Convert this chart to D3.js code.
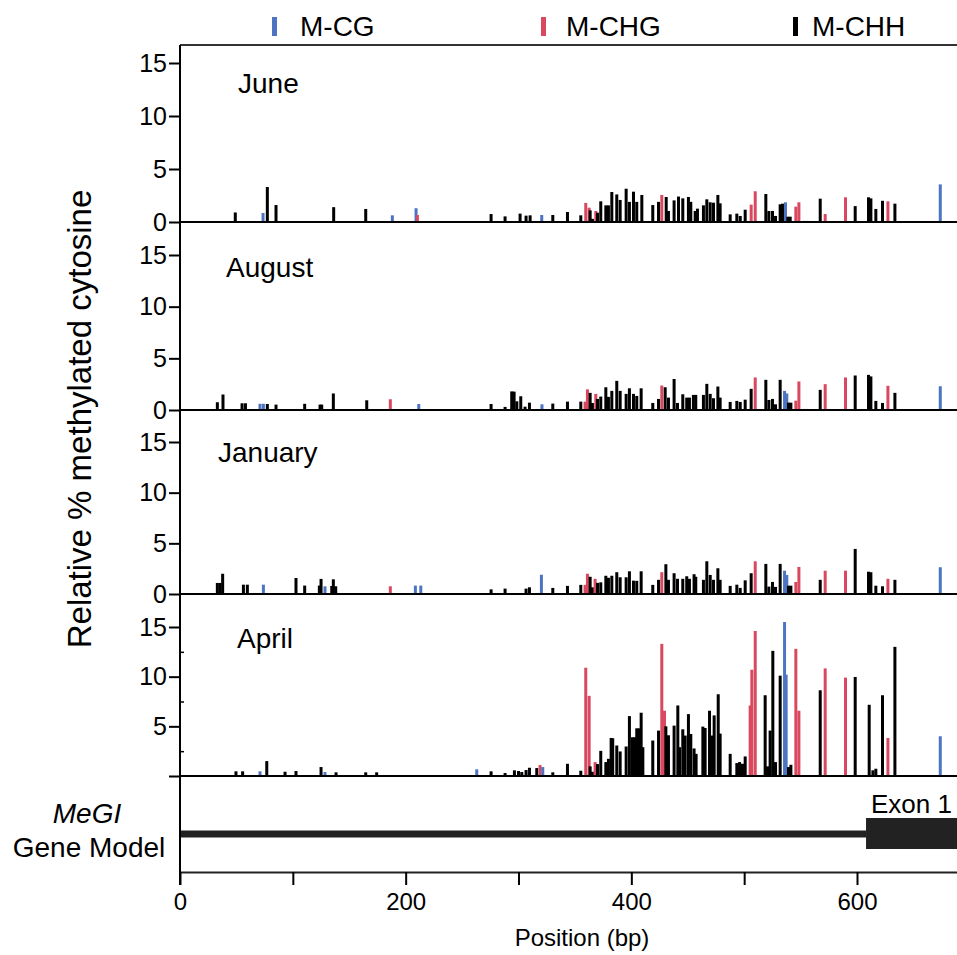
<!DOCTYPE html>
<html>
<head>
<meta charset="utf-8">
<script src="https://cdn.jsdelivr.net/npm/d3@7"></script>
<style>
  body { margin: 0; background: #fff; }
  text { font-family: "Liberation Sans", Arial, Helvetica, sans-serif; fill: #000; }
</style>
</head>
<body>
<svg id="chart" width="957" height="955"></svg>
<script>
// ---- data: [position (bp), relative % methylation] ----
var months = ["June", "August", "January", "April"];
var contexts = ["M-CG", "M-CHG", "M-CHH"];

var juneCG = [[73.6,0.85],[188.2,0.63],[209.2,1.3],[320.6,0.66],[536.6,1.86],[673.8,3.55]];
var juneCHG = [[210.4,0.66],[264.5,0.06],[359.6,1.8],[362.6,1.35],[368.5,1.04],[427.0,2.55],[506.2,1.64],[509.8,2.9],
  [545.8,1.45],[548.5,1.86],[571.8,0.75],[589.8,2.33],[627.4,1.95]];
var juneCHH = [[49,0.9],[77.4,3.3],[85.1,1.6],[136.2,1.4],[164.6,1.23],[275.7,0.75],[288.1,0.53],[301.4,0.79],[306.7,0.6],
  [310.3,0.63],[330.4,0.66],[343.4,0.94],[355.2,0.63],[363.5,1.1],[365.5,0.3],[370.0,0.88],[372.9,1.95],[377.4,1.57],
  [379.7,1.57],[382.7,2.83],[387.1,2.6],[390.1,2.08],[395.4,3.14],[398.3,1.9],[401.9,2.86],[404.8,1.9],[409.3,2.55],
  [419.0,1.6],[424.1,1.9],[430.9,2.36],[432.9,1.04],[437.9,2.04],[441.8,2.4],[445.6,2.23],[450.6,2.36],[452.7,1.9],
  [456.6,1.04],[458.6,1.26],[463.9,1.57],[466.9,2.14],[469.9,1.86],[472.8,1.82],[476.7,2.55],[478.7,1.76],[487.6,0.72],
  [493.5,0.79],[496.5,0.57],[500.9,1.16],[519.2,2.64],[521.9,1.04],[525.1,1.04],[527.8,0.57],[531.9,1.67],[534.0,1.73],
  [538.7,0.5],[540.8,0.5],[553,0.1],[556,0.1],[567.4,2.2],[598.4,1.5],[610.2,2.33],[612.3,2.23],[616.7,1.23],
  [622.6,2.0],[633.6,1.73]];

var augustCG = [[70.9,0.6],[73.9,0.6],[211.6,0.58],[320.8,0.55],[535.8,1.85],[537.8,1.6],[673.8,2.3]];
var augustCHG = [[186.4,1.04],[359.0,0.81],[361.1,2.0],[368.5,1.56],[427.0,2.37],[509.8,3.15],[545.8,0.9],[548.5,2.76],
  [571.8,2.5],[589.8,3.15],[627.4,2.34]];
var augustCHH = [[33.1,0.75],[38.1,1.5],[55,0.65],[58,0.65],[77.4,0.58],[85.1,0.52],[110.5,0.6],[124.1,0.52],[125.6,0.52],
  [135.9,1.6],[165.5,0.94],[275.7,0.58],[288.1,0.3],[294.0,1.8],[296.1,1.78],[298.5,0.84],[302.0,1.33],[305.8,0.32],
  [309.7,0.71],[330.4,0.62],[343.4,0.81],[355.2,0.81],[363.5,1.66],[365.5,0.68],[370.0,1.07],[372.9,1.3],[377.4,2.2],
  [379.7,1.27],[382.7,1.85],[387.1,2.82],[390.1,1.85],[395.4,1.56],[398.3,2.1],[401.9,1.56],[404.8,1.36],[408.7,2.1],
  [419.0,0.68],[424.1,1.07],[430.0,2.2],[432.9,1.2],[437.9,3.0],[440.9,0.68],[445.6,1.52],[449.1,1.2],[451.5,1.2],
  [455.0,1.46],[457.1,1.46],[463.9,1.46],[466.9,2.53],[469.9,1.56],[472.8,1.14],[476.7,2.27],[478.7,1.2],[487.6,0.78],
  [493.5,0.88],[496.5,0.78],[500.9,1.0],[506.2,2.05],[519.2,2.92],[521.9,0.97],[525.1,1.07],[527.8,0.55],[531.9,2.92],
  [539.3,0.71],[541.4,0.71],[553,0.1],[556,0.1],[567.4,1.95],[598.4,3.34],[610.2,3.4],[612.3,3.25],[616.7,0.88],
  [622.6,0.68],[633.6,1.66]];

var januaryCG = [[73.9,0.92],[128.5,0.76],[208.6,0.83],[213.4,0.83],[320.3,1.9],[535.8,2.3],[537.8,1.88],[673.8,2.64]];
var januaryCHG = [[186.4,0.76],[359.0,0.9],[361.1,2.0],[367.9,1.5],[427.0,2.15],[509.8,3.23],[545.8,1.19],[548.5,2.67],
  [571.8,2.3],[589.8,2.3],[627.4,1.5]];
var januaryCHH = [[33.1,1.09],[35.5,1.09],[37.8,2.0],[56.2,0.92],[59.7,0.92],[102.8,1.58],[110.5,0.83],[123.5,0.83],
  [125.0,1.49],[134.5,0.79],[135.9,1.45],[138.0,0.76],[275.7,0.46],[288.1,0.53],[306.7,0.53],[309.7,0.66],[330.4,0.6],
  [343.4,0.8],[352,0.1],[355.2,0.9],[363.5,1.7],[365.5,0.66],[370.0,1.1],[372.9,1.15],[377.4,1.8],[379.7,1.6],[382.7,1.8],
  [387.1,2.15],[390.1,1.65],[395.4,1.65],[398.3,2.24],[401.9,1.32],[404.8,1.3],[408.7,2.24],[419.0,0.9],[424.1,1.4],
  [430.6,2.94],[432.9,1.4],[437.9,2.05],[440.9,1.5],[445.6,1.5],[449.1,1.75],[451.5,1.5],[455.6,1.95],[457.1,1.7],
  [463.9,1.4],[466.9,3.23],[469.9,1.88],[472.8,1.4],[476.7,2.54],[478.7,1.4],[487.6,0.8],[493.5,0.92],[496.5,0.6],
  [500.9,1.35],[506.2,2.05],[519.2,2.97],[521.9,0.73],[525.1,1.19],[527.8,0.7],[531.9,2.97],[539.3,0.82],[541.4,0.82],
  [553,0.1],[556,0.1],[567.4,1.4],[598.4,4.45],[610.2,2.2],[612.3,2.15],[616.7,0.82],[622.6,0.76],[633.6,1.4]];

var aprilCG = [[70.9,0.47],[128.5,0.4],[263.0,0.67],[321.5,0.9],[535.8,15.5],[537.2,10.2],[673.8,4.0]];
var aprilCHG = [[319.1,1.1],[359.6,10.9],[362.6,8.07],[367.9,1.4],[427.0,13.3],[429.4,6.57],[505.3,7.1],[506.8,10.7],
  [509.8,14.6],[545.8,12.8],[548.5,6.57],[571.8,10.83],[589.8,9.9],[627.4,3.83]];
var aprilCHH = [[49.6,0.47],[55.5,0.47],[76.9,1.5],[93.1,0.43],[102.8,0.5],[125.0,0.9],[138.3,0.37],[164.6,0.37],
  [174.3,0.37],[275.7,0.47],[288.1,0.3],[296.4,0.57],[300.0,0.5],[302.9,0.4],[306.7,0.6],[309.7,0.83],[316.2,0.8],
  [330.4,0.37],[343.4,1.23],[355.2,0.53],[363.5,0.97],[365.5,0.43],[370.0,1.2],[372.9,2.53],[377.4,1.4],[379.7,1.73],
  [382.1,3.83],[383.5,3.8],[387.1,3.07],[390.1,2.47],[395.4,2.97],[398.3,6.03],[401.0,3.9],[402.8,3.9],[404.8,4.8],
  [406.9,4.8],[408.7,6.37],[410.2,2.9],[419.0,3.57],[424.1,4.57],[430.6,5.0],[432.9,4.1],[437.9,5.07],[441.2,7.1],
  [442.7,2.9],[445.6,4.7],[447.7,4.07],[450.6,6.23],[452.7,4.23],[455.6,2.77],[457.4,2.23],[463.4,4.97],[465.4,4.83],
  [469.3,6.57],[471.3,4.07],[473.4,6.1],[477.0,8.23],[478.7,4.27],[487.6,2.23],[493.5,1.3],[495.9,1.4],[498.5,1.23],
  [500.9,1.97],[518.6,8.13],[520.7,0.97],[523.0,4.57],[525.4,12.6],[527.8,1.4],[531.9,10.1],[539.3,0.9],[541.4,1.13],
  [567.4,8.63],[598.4,9.97],[610.8,7.17],[614.1,0.57],[616.7,0.73],[622.6,8.13],[633.6,13.0]];

var yTicks = [0, 5, 10, 15];
var aprilTicks = [5, 10, 15];
var aprilMinorTicks = [2.5, 7.5, 12.5];
var xTicks = [0, 100, 200, 300, 400, 500, 600];
var xTickLabels = [0, 200, 400, 600];
var exonStart = 608;

var monthData = [
  [juneCG, juneCHG, juneCHH],
  [augustCG, augustCHG, augustCHH],
  [januaryCG, januaryCHG, januaryCHH],
  [aprilCG, aprilCHG, aprilCHH]
];

// ---- layout ----
var colors = {"M-CG": "#4d74c2", "M-CHG": "#d9485f", "M-CHH": "#000"};
var LEFT = 180, RIGHT = 957;
// panel geometry: top edge, baseline (0) and y of 15
var panels = [
  {top: 45, base: 222, y15: 63},
  {top: 222, base: 410, y15: 255},
  {top: 410, base: 594, y15: 442},
  {top: 594, base: 776, y15: 627}
];
var labelPos = [[238, 93], [226, 277], [218, 462], [237, 648]];
var AXIS_Y = 872;

var svg = d3.select("#chart");

var x = d3.scaleLinear().domain([0, 600]).range([LEFT, 857]);

// legend
var legendX = [[272, 300], [541, 566], [793, 812]];
contexts.forEach(function(c, i) {
  svg.append("rect")
    .attr("x", legendX[i][0]).attr("y", 17)
    .attr("width", 5).attr("height", 19)
    .attr("fill", colors[c]);
  svg.append("text")
    .attr("x", legendX[i][1]).attr("y", 36)
    .attr("font-size", 28)
    .text(c);
});

// top frame line
svg.append("line")
  .attr("x1", LEFT).attr("x2", RIGHT)
  .attr("y1", panels[0].top).attr("y2", panels[0].top)
  .attr("stroke", "#333").attr("stroke-width", 2);

months.forEach(function(m, i) {
  var p = panels[i];
  var y = d3.scaleLinear().domain([0, 15]).range([p.base, p.y15]);
  var g = svg.append("g");

  // bars, all contexts, sorted by position
  var bars = [];
  monthData[i].forEach(function(arr, j) {
    arr.forEach(function(d) { bars.push({pos: d[0], val: d[1], ctx: contexts[j]}); });
  });
  bars.sort(function(a, b) { return a.pos - b.pos; });

  g.selectAll("rect.bar")
    .data(bars)
    .enter().append("rect")
    .attr("class", "bar")
    .attr("x", function(d) { return x(d.pos) - 1.5; })
    .attr("width", 3)
    .attr("y", function(d) { return y(d.val); })
    .attr("height", function(d) { return p.base - y(d.val); })
    .attr("fill", function(d) { return colors[d.ctx]; });

  // baseline
  g.append("line")
    .attr("x1", LEFT).attr("x2", RIGHT)
    .attr("y1", p.base).attr("y2", p.base)
    .attr("stroke", "#000").attr("stroke-width", 2);

  // y axis
  var isApril = (m === "April");
  var yAxis = d3.axisLeft(y)
    .tickValues(isApril ? [0].concat(aprilTicks) : yTicks)
    .tickSize(11).tickPadding(2)
    .tickFormat(function(d) { return (isApril && d === 0) ? "" : d; });
  var ax = g.append("g")
    .attr("transform", "translate(" + LEFT + ",0)")
    .call(yAxis);
  ax.select(".domain").remove();
  ax.selectAll("line").attr("stroke", "#000").attr("stroke-width", 2);
  ax.selectAll("text")
    .attr("font-size", 25)
    .attr("font-family", "'Liberation Sans', Arial, sans-serif")
    .attr("fill", "#000");

  if (isApril) {
    var minor = g.append("g")
      .attr("transform", "translate(" + LEFT + ",0)")
      .call(d3.axisRight(y).tickValues(aprilMinorTicks).tickSize(4).tickFormat(""));
    minor.select(".domain").remove();
    minor.selectAll("line").attr("stroke", "#000").attr("stroke-width", 1.5);
  }

  // panel label
  g.append("text")
    .attr("x", labelPos[i][0]).attr("y", labelPos[i][1])
    .attr("font-size", 28)
    .text(m);
});

// gene model
svg.append("line")
  .attr("x1", x(0)).attr("x2", x(exonStart))
  .attr("y1", 834).attr("y2", 834)
  .attr("stroke", "#222").attr("stroke-width", 7);
svg.append("rect")
  .attr("x", x(exonStart)).attr("y", 818)
  .attr("width", RIGHT - x(exonStart)).attr("height", 31)
  .attr("fill", "#222");
svg.append("text")
  .attr("x", x(exonStart) + 5).attr("y", 813)
  .attr("font-size", 26)
  .text("Exon 1");

svg.append("text")
  .attr("x", 87).attr("y", 823)
  .attr("text-anchor", "middle")
  .attr("font-size", 28)
  .attr("font-style", "italic")
  .text("MeGI");
svg.append("text")
  .attr("x", 89).attr("y", 857)
  .attr("text-anchor", "middle")
  .attr("font-size", 28)
  .text("Gene Model");

// vertical axis line through all panels
svg.append("line")
  .attr("x1", LEFT).attr("x2", LEFT)
  .attr("y1", panels[0].top).attr("y2", AXIS_Y + 13)
  .attr("stroke", "#000").attr("stroke-width", 2);

// x axis
var xAxis = d3.axisBottom(x.copy().domain([0, 600 * (RIGHT - LEFT) / (857 - LEFT)]).range([LEFT, RIGHT]))
  .tickValues(xTicks)
  .tickSize(13).tickSizeOuter(0).tickPadding(8)
  .tickFormat(function(d) { return xTickLabels.indexOf(d) >= 0 ? d : ""; });
var xg = svg.append("g")
  .attr("transform", "translate(0," + AXIS_Y + ")")
  .call(xAxis);
xg.select(".domain").attr("stroke", "#222").attr("stroke-width", 2);
xg.selectAll("line").attr("stroke", "#000").attr("stroke-width", 2);
xg.selectAll("text")
  .attr("font-size", 24)
  .attr("font-family", "'Liberation Sans', Arial, sans-serif")
  .attr("fill", "#000");

svg.append("text")
  .attr("x", 582).attr("y", 946)
  .attr("text-anchor", "middle")
  .attr("font-size", 24)
  .text("Position (bp)");

svg.append("text")
  .attr("transform", "translate(91,419) rotate(-90)")
  .attr("text-anchor", "middle")
  .attr("font-size", 33)
  .text("Relative % methylated cytosine");
</script>
</body>
</html>
